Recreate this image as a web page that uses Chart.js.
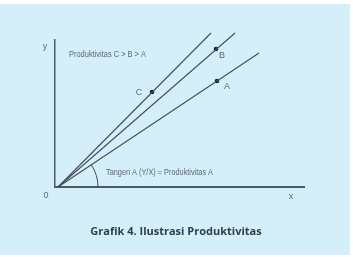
<!DOCTYPE html>
<html>
<head>
<meta charset="utf-8">
<script src="https://cdn.jsdelivr.net/npm/chart.js@4/dist/chart.umd.min.js"></script>
<style>
  html, body { margin: 0; padding: 0; background: #ffffff; }
  #wrap { width: 353px; height: 257px; }
</style>
</head>
<body>
<div id="wrap"><canvas id="c" width="353" height="257"></canvas></div>
<script>
// ---- data ----
const categories = ['A', 'B', 'C'];
const lineEndX = [201, 177, 153];
const lineEndY = [134, 154, 154];
const pointX = [159, 158, 94];
const pointY = [106, 138, 95];
const xRange = [-3, 246];
const yRange = [0, 147];
const titleText = 'Grafik 4. Ilustrasi Produktivitas';
const noteTop = 'Produktivitas C > B > A';
const noteBottom = 'Tangen A (Y/X) = Produktivitas A';
const axisLabels = ['0', 'x', 'y'];

const LINE_COLOR = '#454d53';
const TEXT_COLOR = '#5f696f';
const SMALL_FONT = "9px 'Liberation Sans Narrow', 'Liberation Sans', sans-serif";

const lineDatasets = categories.map((c, i) => ({
  label: c,
  data: [{x: 0, y: 0}, {x: lineEndX[i], y: lineEndY[i]}],
  showLine: true,
  borderColor: LINE_COLOR,
  borderWidth: 1.1,
  pointRadius: 0,
  clip: false
}));

const pointDataset = {
  label: 'points',
  data: categories.map((c, i) => ({x: pointX[i], y: pointY[i]})),
  showLine: false,
  pointRadius: 2.3,
  pointBackgroundColor: '#1c262c',
  pointBorderColor: '#1c262c',
  pointBorderWidth: 0,
  clip: false
};

// label anchors in data units
const pointLabelOffsets = { A: [10, -6], B: [6, -7], C: [-13, -1] };

const decor = {
  id: 'decor',
  beforeDraw(chart) {
    const ctx = chart.ctx;
    ctx.save();
    ctx.fillStyle = '#ffffff';
    ctx.fillRect(0, 0, chart.width, chart.height);
    ctx.fillStyle = '#d5effa';
    ctx.fillRect(0, 4, 350, 251);
    ctx.restore();
  },
  afterDatasetsDraw(chart) {
    const ctx = chart.ctx;
    const xs = chart.scales.x, ys = chart.scales.y;
    const px = v => xs.getPixelForValue(v);
    const py = v => ys.getPixelForValue(v);
    ctx.save();
    // angle arc for line A
    const ox = px(0), oy = py(0);
    const r = px(40) - px(0);
    const ang = Math.atan2(py(lineEndY[0]) - oy, px(lineEndX[0]) - ox);
    ctx.strokeStyle = LINE_COLOR;
    ctx.lineWidth = 1;
    ctx.beginPath();
    ctx.arc(ox, oy, r, ang, 0, false);
    ctx.stroke();

    ctx.fillStyle = TEXT_COLOR;
    ctx.font = SMALL_FONT;
    ctx.textBaseline = 'middle';
    ctx.textAlign = 'left';
    ctx.fillText(noteTop, px(11), py(132), 77);
    ctx.fillText(noteBottom, px(48), py(14), 107);

    ctx.textAlign = 'center';
    categories.forEach((c, i) => {
      const o = pointLabelOffsets[c];
      ctx.fillText(c, px(pointX[i] + o[0]), py(pointY[i] + o[1]));
    });
    ctx.fillText(axisLabels[0], px(-12), py(-9));
    ctx.fillText(axisLabels[1], px(233), py(-10));
    ctx.fillText(axisLabels[2], px(-13), py(140));

    // title
    ctx.fillStyle = '#2f3e4c';
    ctx.font = "bold 11px 'Open Sans', sans-serif";
    ctx.textAlign = 'center';
    ctx.fillText(titleText, 176, 232);
    ctx.restore();
  }
};

new Chart(document.getElementById('c'), {
  type: 'scatter',
  data: { datasets: [...lineDatasets, pointDataset] },
  options: {
    responsive: false,
    animation: false,
    events: [],
    layout: { padding: { left: 55, right: 49, top: 40, bottom: 70 } },
    plugins: { legend: { display: false }, tooltip: { enabled: false }, title: { display: false } },
    scales: {
      x: {
        type: 'linear', min: xRange[0], max: xRange[1],
        ticks: { display: false },
        grid: { display: false, drawTicks: false },
        border: { display: true, color: '#4b5a61', width: 2 }
      },
      y: {
        type: 'linear', min: yRange[0], max: yRange[1],
        ticks: { display: false },
        grid: { display: false, drawTicks: false },
        border: { display: true, color: '#4b5a61', width: 1.5 }
      }
    }
  },
  plugins: [decor]
});
</script>
</body>
</html>
